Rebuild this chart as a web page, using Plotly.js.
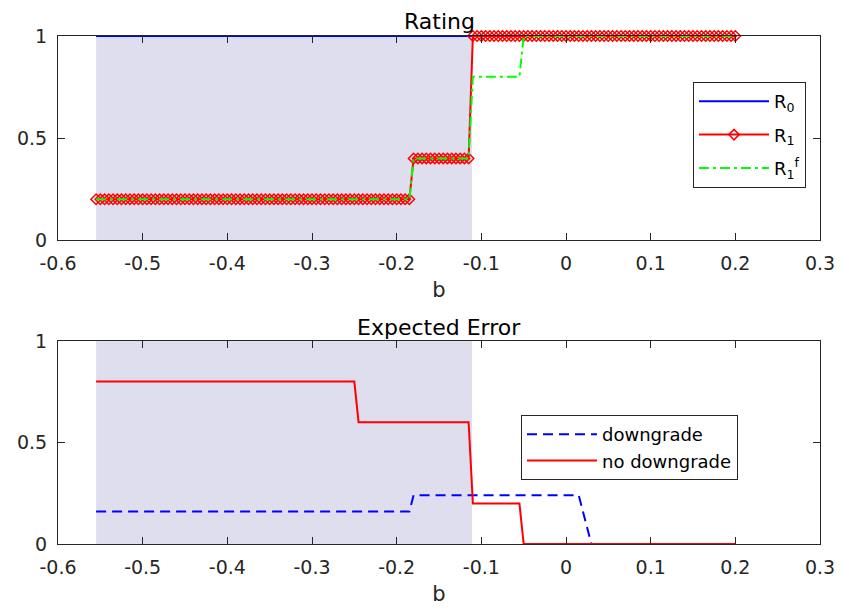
<!DOCTYPE html>
<html><head><meta charset="utf-8">
<script src="https://cdn.plot.ly/plotly-3.0.1.min.js"></script>
<style>html,body{margin:0;padding:0;background:#fff}#chart{width:843px;height:611px}</style>
</head><body><div id="chart"></div>
<script>
// Grid of b values (top panel, one marker per point)
const bGrid = [
-0.555,-0.55,-0.545,-0.54,-0.535,-0.53,-0.525,-0.52,-0.515,-0.51,
-0.505,-0.5,-0.495,-0.49,-0.485,-0.48,-0.475,-0.47,-0.465,-0.46,
-0.455,-0.45,-0.445,-0.44,-0.435,-0.43,-0.425,-0.42,-0.415,-0.41,
-0.405,-0.4,-0.395,-0.39,-0.385,-0.38,-0.375,-0.37,-0.365,-0.36,
-0.355,-0.35,-0.345,-0.34,-0.335,-0.33,-0.325,-0.32,-0.315,-0.31,
-0.305,-0.3,-0.295,-0.29,-0.285,-0.28,-0.275,-0.27,-0.265,-0.26,
-0.255,-0.25,-0.245,-0.24,-0.235,-0.23,-0.225,-0.22,-0.215,-0.21,
-0.205,-0.2,-0.195,-0.19,-0.185,-0.18,-0.175,-0.17,-0.165,-0.16,
-0.155,-0.15,-0.145,-0.14,-0.135,-0.13,-0.125,-0.12,-0.115,-0.11,
-0.105,-0.1,-0.095,-0.09,-0.085,-0.08,-0.075,-0.07,-0.065,-0.06,
-0.055,-0.05,-0.045,-0.04,-0.035,-0.03,-0.025,-0.02,-0.015,-0.01,
-0.005,0,0.005,0.01,0.015,0.02,0.025,0.03,0.035,0.04,
0.045,0.05,0.055,0.06,0.065,0.07,0.075,0.08,0.085,0.09,
0.095,0.1,0.105,0.11,0.115,0.12,0.125,0.13,0.135,0.14,
0.145,0.15,0.155,0.16,0.165,0.17,0.175,0.18,0.185,0.19,
0.195,0.2
];
// R1 rating at each grid point
const r1Values = [
0.2,0.2,0.2,0.2,0.2,0.2,0.2,0.2,0.2,0.2,
0.2,0.2,0.2,0.2,0.2,0.2,0.2,0.2,0.2,0.2,
0.2,0.2,0.2,0.2,0.2,0.2,0.2,0.2,0.2,0.2,
0.2,0.2,0.2,0.2,0.2,0.2,0.2,0.2,0.2,0.2,
0.2,0.2,0.2,0.2,0.2,0.2,0.2,0.2,0.2,0.2,
0.2,0.2,0.2,0.2,0.2,0.2,0.2,0.2,0.2,0.2,
0.2,0.2,0.2,0.2,0.2,0.2,0.2,0.2,0.2,0.2,
0.2,0.2,0.2,0.2,0.2,0.4,0.4,0.4,0.4,0.4,
0.4,0.4,0.4,0.4,0.4,0.4,0.4,0.4,0.4,1,
1,1,1,1,1,1,1,1,1,1,
1,1,1,1,1,1,1,1,1,1,
1,1,1,1,1,1,1,1,1,1,
1,1,1,1,1,1,1,1,1,1,
1,1,1,1,1,1,1,1,1,1,
1,1,1,1,1,1,1,1,1,1,
1,1
];
// R1^f rating at each grid point
const r1fValues = [
0.2,0.2,0.2,0.2,0.2,0.2,0.2,0.2,0.2,0.2,
0.2,0.2,0.2,0.2,0.2,0.2,0.2,0.2,0.2,0.2,
0.2,0.2,0.2,0.2,0.2,0.2,0.2,0.2,0.2,0.2,
0.2,0.2,0.2,0.2,0.2,0.2,0.2,0.2,0.2,0.2,
0.2,0.2,0.2,0.2,0.2,0.2,0.2,0.2,0.2,0.2,
0.2,0.2,0.2,0.2,0.2,0.2,0.2,0.2,0.2,0.2,
0.2,0.2,0.2,0.2,0.2,0.2,0.2,0.2,0.2,0.2,
0.2,0.2,0.2,0.2,0.2,0.4,0.4,0.4,0.4,0.4,
0.4,0.4,0.4,0.4,0.4,0.4,0.4,0.4,0.4,0.8,
0.8,0.8,0.8,0.8,0.8,0.8,0.8,0.8,0.8,0.8,
0.8,1,1,1,1,1,1,1,1,1,
1,1,1,1,1,1,1,1,1,1,
1,1,1,1,1,1,1,1,1,1,
1,1,1,1,1,1,1,1,1,1,
1,1,1,1,1,1,1,1,1,1,
1,1
];
// R0 rating (constant)
const r0B = [-0.555, 0.2];
const r0Values = [1, 1];

// Expected error (bottom panel), step corners
const downgradeB = [-0.555, -0.185, -0.18, 0.015, 0.03, 0.2];
const downgradeErr = [0.16, 0.16, 0.24, 0.24, 0, 0];
const noDowngradeB = [-0.555, -0.25, -0.245, -0.115, -0.11, -0.055, -0.05, 0.2];
const noDowngradeErr = [0.8, 0.8, 0.6, 0.6, 0.2, 0.2, 0, 0];

// Shaded region in b
const shadeB = [-0.555, -0.111];

// Ticks
const xTickVals = [-0.6, -0.5, -0.4, -0.3, -0.2, -0.1, 0, 0.1, 0.2, 0.3];
const xTickText = ['-0.6', '-0.5', '-0.4', '-0.3', '-0.2', '-0.1', '0', '0.1', '0.2', '0.3'];
const yTickVals = [0, 0.5, 1];
const yTickText = ['0', '0.5', '1'];

const AX = '#262626';
const traces = [
  {x: r0B, y: r0Values, type: 'scatter', mode: 'lines', name: 'R<sub>0</sub>',
   line: {color: '#0000ff', width: 2}, xaxis: 'x', yaxis: 'y', legend: 'legend', legendgroup: 'a'},
  {x: bGrid, y: r1Values, type: 'scatter', mode: 'lines+markers', name: 'R<sub>1</sub>',
   line: {color: '#ff0000', width: 2},
   marker: {symbol: 'diamond-open', size: 8, color: '#ff0000', line: {width: 1.5, color: '#ff0000'}},
   cliponaxis: false, xaxis: 'x', yaxis: 'y', legend: 'legend', legendgroup: 'b'},
  {x: bGrid, y: r1fValues, type: 'scatter', mode: 'lines', name: 'R<sub>1</sub><sup>f</sup>',
   line: {color: '#00ff00', width: 2, dash: '10px,4px,3px,4px'}, xaxis: 'x', yaxis: 'y', legend: 'legend', legendgroup: 'c'},
  {x: downgradeB, y: downgradeErr, type: 'scatter', mode: 'lines', name: 'downgrade',
   line: {color: '#0000ff', width: 2, dash: '10px,6px'}, xaxis: 'x2', yaxis: 'y2', legend: 'legend2'},
  {x: noDowngradeB, y: noDowngradeErr, type: 'scatter', mode: 'lines', name: 'no downgrade',
   line: {color: '#ff0000', width: 2}, xaxis: 'x2', yaxis: 'y2', legend: 'legend2'}
];

function xAxis(anchor) {
  return {anchor: anchor, domain: [0, 1], range: [-0.6, 0.3], tickmode: 'array',
    tickvals: xTickVals, ticktext: xTickText, ticks: 'inside', ticklen: 7, tickcolor: AX,
    showline: true, linecolor: AX, linewidth: 1, mirror: 'ticks', showgrid: false, zeroline: false,
    tickfont: {size: 19, color: AX}, ticklabelstandoff: 6,
    title: {text: 'b', font: {size: 21, color: AX}, standoff: 9}};
}
function yAxis(anchor, domain) {
  return {anchor: anchor, domain: domain, range: [0, 1], tickmode: 'array',
    tickvals: yTickVals, ticktext: yTickText, ticks: 'inside', ticklen: 7, tickcolor: AX,
    showline: true, linecolor: AX, linewidth: 1, mirror: 'ticks', showgrid: false, zeroline: false,
    tickfont: {size: 19, color: AX}, ticklabelstandoff: 6};
}
const shadeColor = '#dfdeee';
const layout = {
  width: 843, height: 611,
  margin: {l: 58, r: 23, t: 36, b: 67},
  paper_bgcolor: '#ffffff', plot_bgcolor: '#ffffff',
  font: {family: 'DejaVu Sans, Arial, sans-serif', color: AX},
  xaxis: xAxis('y'), yaxis: yAxis('x', [0.5984, 1]),
  xaxis2: xAxis('y2'), yaxis2: yAxis('x2', [0, 0.3996]),
  shapes: [
    {type: 'rect', xref: 'x', yref: 'y', x0: shadeB[0], x1: shadeB[1], y0: 0, y1: 1,
     fillcolor: shadeColor, line: {width: 0}, layer: 'below'},
    {type: 'rect', xref: 'x2', yref: 'y2', x0: shadeB[0], x1: shadeB[1], y0: 0, y1: 1,
     fillcolor: shadeColor, line: {width: 0}, layer: 'below'}
  ],
  annotations: [
    {text: 'Rating', xref: 'paper', yref: 'paper', x: 0.5, y: 1.029, xanchor: 'center', yanchor: 'middle',
     showarrow: false, font: {size: 22, color: '#000000'}},
    {text: 'Expected Error', xref: 'paper', yref: 'paper', x: 0.5, y: 0.427, xanchor: 'center', yanchor: 'middle',
     showarrow: false, font: {size: 22, color: '#000000'}}
  ],
  legend: {x: 0.8333, y: 0.9094, xanchor: 'left', yanchor: 'top', bgcolor: '#ffffff',
    bordercolor: AX, borderwidth: 1, font: {size: 18, color: '#000000'}, itemwidth: 70,
    tracegroupgap: 7},
  legend2: {x: 0.6076, y: 0.254, xanchor: 'left', yanchor: 'top', bgcolor: '#ffffff',
    bordercolor: AX, borderwidth: 1, font: {size: 18, color: '#000000'}, itemwidth: 70},
  showlegend: true
};
Plotly.newPlot('chart', traces, layout, {staticPlot: true, displayModeBar: false});
</script>
</body></html>
